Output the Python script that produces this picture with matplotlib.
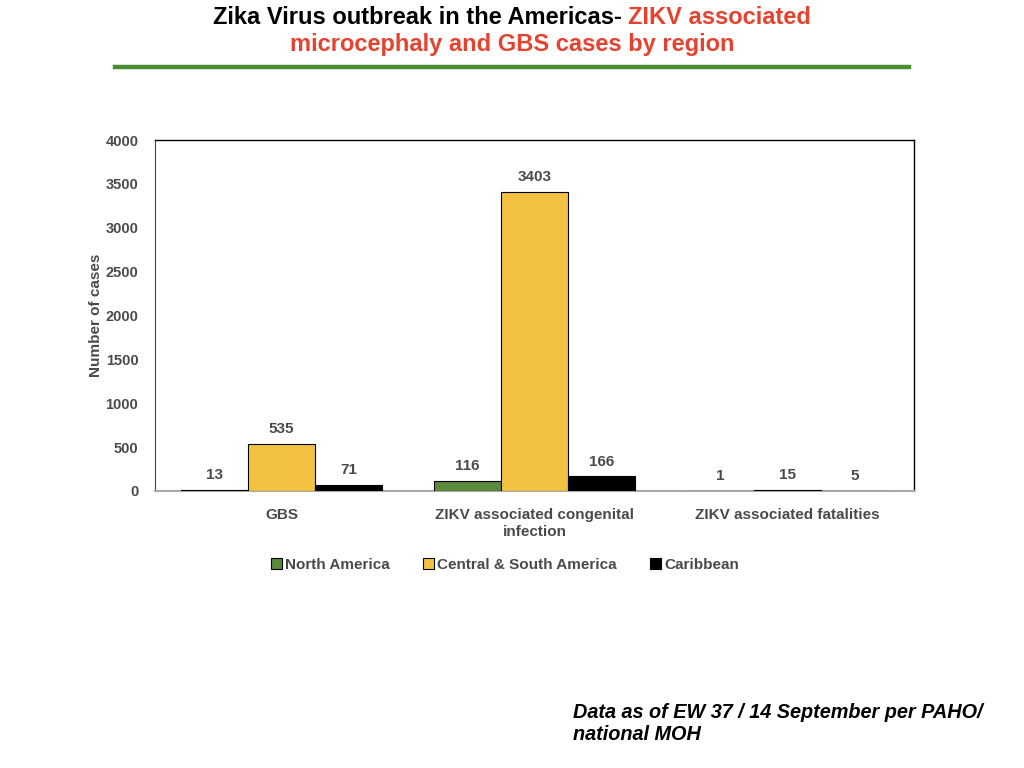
import matplotlib.pyplot as plt
import numpy as np
from matplotlib.lines import Line2D

categories = ['GBS', 'ZIKV associated congenital\ninfection', 'ZIKV associated fatalities']
regions = ['North America', 'Central & South America', 'Caribbean']
north_america = [13, 116, 1]
central_south = [535, 3403, 15]
caribbean = [71, 166, 5]

colors = ['#5b8a3c', '#f4c242', '#000000']
gray = '#4a4a4a'
narrow = ['Liberation Sans Narrow', 'Liberation Sans', 'DejaVu Sans']
plt.rcParams['font.family'] = ['Liberation Sans', 'DejaVu Sans']

fig = plt.figure(figsize=(10.24, 7.68), dpi=100)
ax = fig.add_axes([155/1024, 1-491/768, (914-155)/1024, (491-140)/768])

x = np.arange(len(categories))
w = 0.265
series = [north_america, central_south, caribbean]
for i, (vals, c, name) in enumerate(zip(series, colors, regions)):
    bars = ax.bar(x + (i-1)*w, vals, w, color=c, edgecolor='black', linewidth=0.8,
                  label=name, zorder=3)
    for b, v in zip(bars, vals):
        ax.text(b.get_x() + b.get_width()/2, v + 90, str(v), ha='center', va='bottom',
                fontsize=11, fontweight='bold', color=gray)

ax.set_xlim(-0.5, 2.5)
ax.set_ylim(0, 4000)
ax.set_yticks(range(0, 4001, 500))
ax.tick_params(axis='y', length=0, pad=12, labelsize=10.5, labelcolor=gray)
ax.tick_params(axis='x', length=0, pad=12, labelsize=11, labelcolor=gray)
for lab in ax.get_yticklabels() + ax.get_xticklabels():
    lab.set_fontweight('bold')
ax.set_xticks(x)
ax.set_xticklabels(categories, linespacing=1.3)
ax.set_ylabel('Number of cases', fontsize=11, fontweight='bold', color=gray, labelpad=2)
for s in ['top', 'right']:
    ax.spines[s].set_color('black')
    ax.spines[s].set_linewidth(1.0)
ax.spines['left'].set_color('#444444')
ax.spines['bottom'].set_color('#aaaaaa')
ax.spines['bottom'].set_linewidth(1.5)

handles = [plt.Rectangle((0, 0), 1, 1, facecolor=c, edgecolor='black', linewidth=0.8) for c in colors]
leg = fig.legend(handles, regions, loc='center', bbox_to_anchor=(505/1024, 1-565/768), ncol=3,
                 frameon=False, fontsize=11, handlelength=0.7, handleheight=0.7,
                 handletextpad=0.2, columnspacing=2.2)
for t in leg.get_texts():
    t.set_color(gray)
    t.set_fontweight('bold')

# title in two colours
red = '#e5432f'
fig.canvas.draw()
r = fig.canvas.get_renderer()
t1 = fig.text(0, 1-17/768, 'Zika Virus outbreak in the Americas- ', fontsize=17, fontweight='bold',
              family=narrow, color='black', va='center', ha='left')
t2 = fig.text(0, 1-17/768, 'ZIKV associated', fontsize=17, fontweight='bold',
              family=narrow, color=red, va='center', ha='left')
w1 = t1.get_window_extent(r).width
w2 = t2.get_window_extent(r).width
start = 512 - (w1 + w2)/2
t1.set_x(start/1024)
t2.set_x((start + w1)/1024)
fig.text(512/1024, 1-45/768, 'microcephaly and GBS cases by region', fontsize=17, fontweight='bold',
         family=narrow, color=red, va='center', ha='center')
fig.add_artist(Line2D([115/1024, 909/1024], [1-67/768, 1-67/768], color='#4a8c2f', linewidth=3.2))

fig.text(573/1024, 1-724/768, 'Data as of EW 37 / 14 September per PAHO/\nnational MOH', fontsize=14.3,
         fontweight='bold', fontstyle='italic', color='black', va='center', ha='left', linespacing=1.2)

fig.savefig('out.png', dpi=100)
